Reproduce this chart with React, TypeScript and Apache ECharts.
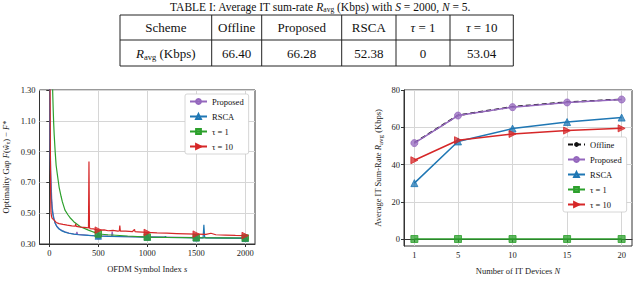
import React, { useEffect, useRef } from "react";
import * as echarts from "echarts";

const FONT = "Liberation Serif, Times New Roman, serif";

// ---- Table data ----
const tableHeaders = ["Scheme", "Offline", "Proposed", "RSCA", "{i|τ} = 1", "{i|τ} = 10"];
const tableValues = ["{i|R}{sub|avg} (Kbps)", "66.40", "66.28", "52.38", "0", "53.04"];

// ---- Left chart (optimality gap vs symbol index) ----
const leftXTicks = [0, 500, 1000, 1500, 2000];
const leftMarkerXs = [500, 1000, 1500, 2000];

const propX = [0, 4, 8, 12, 16, 20, 25, 30, 40, 50, 60, 75, 100, 130, 160, 200, 250, 275, 282, 290, 350, 400, 500, 600, 635, 642, 650, 800, 1000, 1200, 1500, 1800, 2000];
const propY = [1.6, 1.3, 1.03, 0.86, 0.75, 0.67, 0.59, 0.54, 0.49, 0.458, 0.437, 0.417, 0.399, 0.387, 0.379, 0.371, 0.365, 0.363, 0.378, 0.362, 0.359, 0.356, 0.353, 0.351, 0.35, 0.38, 0.35, 0.348, 0.346, 0.344, 0.341, 0.339, 0.338];

const rscaX = [0, 3, 6, 10, 14, 18, 24, 30, 40, 50, 60, 75, 100, 130, 160, 200, 250, 300, 400, 500, 600, 800, 1000, 1180, 1185, 1190, 1400, 1500, 1570, 1578, 1586, 1600, 1800, 2000];
const rscaY = [1.6, 1.3, 1.0, 0.82, 0.72, 0.64, 0.57, 0.52, 0.48, 0.455, 0.435, 0.415, 0.397, 0.385, 0.377, 0.37, 0.364, 0.36, 0.356, 0.352, 0.35, 0.347, 0.345, 0.343, 0.35, 0.343, 0.341, 0.34, 0.34, 0.425, 0.345, 0.339, 0.338, 0.337];

const tau1X = [25, 30, 35, 40, 45, 50, 60, 70, 83, 100, 120, 133, 160, 190, 217, 250, 317, 400, 483, 500, 600, 800, 1000, 1200, 1500, 1800, 2000];
const tau1Y = [1.6, 1.42, 1.28, 1.17, 1.08, 1.01, 0.9, 0.81, 0.748, 0.67, 0.61, 0.575, 0.52, 0.49, 0.467, 0.445, 0.412, 0.39, 0.37, 0.365, 0.36, 0.352, 0.345, 0.343, 0.341, 0.34, 0.339];

const tau10X = [5, 8, 11, 14, 17, 22, 30, 40, 50, 70, 100, 140, 183, 230, 265, 270, 275, 320, 383, 400, 405, 410, 415, 450, 500, 560, 600, 650, 700, 715, 720, 725, 780, 850, 870, 875, 900, 1000, 1100, 1200, 1300, 1400, 1500, 1600, 1650, 1700, 1800, 1900, 2000];
const tau10Y = [1.6, 1.3, 0.9, 0.62, 0.51, 0.48, 0.466, 0.46, 0.455, 0.44, 0.432, 0.427, 0.422, 0.418, 0.416, 0.43, 0.415, 0.41, 0.406, 0.404, 0.835, 0.41, 0.4, 0.398, 0.39, 0.392, 0.386, 0.388, 0.384, 0.385, 0.42, 0.384, 0.383, 0.381, 0.395, 0.38, 0.379, 0.375, 0.372, 0.37, 0.368, 0.366, 0.364, 0.362, 0.37, 0.36, 0.358, 0.356, 0.355];

// ---- Right chart (sum-rate vs number of devices) ----
const deviceN = [1, 5, 10, 15, 20];
const offlineRate = [51.7, 66.4, 71.0, 73.5, 75.0];
const proposedRate = [51.5, 66.28, 70.8, 73.3, 74.9];
const rscaRate = [30.0, 52.38, 59.3, 62.8, 65.2];
const tau1Rate = [0, 0, 0, 0, 0];
const tau10Rate = [42.3, 53.04, 56.4, 58.2, 59.4];
const rightXTicks = [1, 5, 10, 15, 20];
const rightYTicks = [0, 20, 40, 60, 80];

const C_PURPLE = "#9467bd";
const C_BLUE = "#1f77b4";
const C_GREEN = "#2ca02c";
const C_RED = "#d62728";

function fade(hex: string, a: number) {
  const r = parseInt(hex.slice(1, 3), 16);
  const g = parseInt(hex.slice(3, 5), 16);
  const b = parseInt(hex.slice(5, 7), 16);
  return `rgba(${r},${g},${b},${a})`;
}

function leftData(xs: number[], ys: number[]) {
  return xs.map((x, i) =>
    leftMarkerXs.includes(x) ? { value: [x, ys[i]] } : { value: [x, ys[i]], symbol: "none" }
  );
}

const rich = {
  i: { fontStyle: "italic", fontFamily: FONT },
  sub: { fontSize: 7, fontFamily: FONT, padding: [5, 0, 0, 0] },
};

export default function App() {
  const ref = useRef<HTMLDivElement>(null);
  useEffect(() => {
    if (!ref.current) return;
    const chart = echarts.init(ref.current, undefined, { renderer: "svg" });

    const colX = [120, 211.7, 261.7, 341.7, 396, 450, 513.3];
    const rowY = [15, 40, 66];
    const graphics: any[] = [];
    colX.forEach((x) =>
      graphics.push({ type: "line", shape: { x1: x, y1: rowY[0], x2: x, y2: rowY[2] }, style: { stroke: "#222", lineWidth: 1 } })
    );
    rowY.forEach((y) =>
      graphics.push({ type: "line", shape: { x1: colX[0], y1: y, x2: colX[6], y2: y }, style: { stroke: "#222", lineWidth: 1 } })
    );
    const cellRich = {
      i: { fontStyle: "italic", fontFamily: FONT, fontSize: 13 },
      sub: { fontSize: 8.5, fontFamily: FONT, padding: [7, 0, 0, 0] },
    };
    [tableHeaders, tableValues].forEach((row, r) => {
      row.forEach((t, c) => {
        graphics.push({
          type: "text",
          x: (colX[c] + colX[c + 1]) / 2,
          y: (rowY[r] + rowY[r + 1]) / 2,
          style: { text: t, fontFamily: FONT, fontSize: 13, fill: "#111", align: "center", verticalAlign: "middle", rich: cellRich },
        });
      });
    });
    graphics.push({
      type: "text",
      x: 320,
      y: 7,
      style: {
        text: "TABLE I: Average IT sum-rate {i|R}{sub|avg} (Kbps) with {i|S} = 2000, {i|N} = 5.",
        fontFamily: FONT,
        fontSize: 11.5,
        fill: "#111",
        align: "center",
        verticalAlign: "middle",
        rich: {
          i: { fontStyle: "italic", fontFamily: FONT, fontSize: 11.5 },
          sub: { fontSize: 7.5, fontFamily: FONT, padding: [5, 0, 0, 0] },
        },
      },
    });

    const axisCommon = {
      axisLine: { show: true, lineStyle: { color: "#333", width: 1 } },
      axisTick: { show: true, inside: false, length: 3, lineStyle: { color: "#333" } },
      axisLabel: { fontFamily: FONT, fontSize: 8.5, color: "#222", margin: 4, formatter: (v: number) => String(v) },
      splitLine: { show: true, lineStyle: { color: "#d6d6d6", width: 1 } },
      nameTextStyle: { fontFamily: FONT, fontSize: 8.5, color: "#222", rich },
    };

    const legendCommon = {
      orient: "vertical",
      itemWidth: 17,
      itemHeight: 6,
      itemGap: 6,
      padding: [3, 5, 3, 4],
      backgroundColor: "#fff",
      borderColor: "#ccc",
      borderWidth: 0.8,
      borderRadius: 2,
      textStyle: { fontFamily: FONT, fontSize: 8.5, color: "#111" },
    };

    const lineSeries = (
      name: string,
      color: string,
      symbol: string,
      data: any[],
      axisIdx: number,
      extra: any = {}
    ) => ({
      name,
      type: "line",
      xAxisIndex: axisIdx,
      yAxisIndex: axisIdx,
      data,
      symbol,
      symbolSize: axisIdx === 0 ? 6.5 : 7,
      showSymbol: true,
      color,
      lineStyle: { color, width: axisIdx === 0 ? 1.2 : 1.5 },
      itemStyle: { color: fade(color, 0.75), borderColor: color, borderWidth: 0.8 },
      clip: true,
      ...extra,
    });

    chart.setOption({
      animation: false,
      graphic: graphics,
      grid: [
        { left: 35, top: 90, width: 220, height: 154, show: true, borderColor: "#333", borderWidth: 1, backgroundColor: "transparent" },
        { left: 404, top: 90, width: 228, height: 156, show: true, borderColor: "#333", borderWidth: 1, backgroundColor: "transparent" },
      ],
      xAxis: [
        {
          ...axisCommon,
          type: "value",
          gridIndex: 0,
          min: -100,
          max: 2100,
          axisTick: { ...axisCommon.axisTick, customValues: leftXTicks },
          axisLabel: { ...axisCommon.axisLabel, customValues: leftXTicks },
          name: "OFDM Symbol Index {i|s}",
          nameLocation: "middle",
          nameGap: 20,
        },
        {
          ...axisCommon,
          type: "value",
          gridIndex: 1,
          min: 0.05,
          max: 20.95,
          axisTick: { ...axisCommon.axisTick, customValues: rightXTicks },
          axisLabel: { ...axisCommon.axisLabel, customValues: rightXTicks },
          name: "Number of IT Devices {i|N}",
          nameLocation: "middle",
          nameGap: 20,
        },
      ],
      yAxis: [
        {
          ...axisCommon,
          type: "value",
          gridIndex: 0,
          min: 0.3,
          max: 1.3,
          interval: 0.2,
          axisLabel: { ...axisCommon.axisLabel, formatter: (v: number) => v.toFixed(2) },
          name: "Optimality Gap {i|F}({i|ŵ}{sub|τ}) − {i|F}*",
          nameLocation: "middle",
          nameGap: 28,
        },
        {
          ...axisCommon,
          type: "value",
          gridIndex: 1,
          min: -3.75,
          max: 80,
          axisTick: { ...axisCommon.axisTick, customValues: rightYTicks },
          axisLabel: { ...axisCommon.axisLabel, customValues: rightYTicks },
          name: "Average IT Sum-Rate {i|R}{sub|avg} (Kbps)",
          nameLocation: "middle",
          nameGap: 20,
        },
      ],
      legend: [
        { ...legendCommon, left: 185, top: 94, data: ["Proposed", "RSCA", "τ = 1", "τ = 10"] },
        { ...legendCommon, left: 563, top: 137, data: ["Offline", "Proposed", "RSCA", "τ = 1", "τ = 10"] },
      ],
      series: [
        lineSeries("Proposed", C_PURPLE, "circle", leftData(propX, propY), 0),
        lineSeries("RSCA", C_BLUE, "triangle", leftData(rscaX, rscaY), 0),
        lineSeries("τ = 1", C_GREEN, "rect", leftData(tau1X, tau1Y), 0),
        lineSeries("τ = 10", C_RED, "triangle", leftData(tau10X, tau10Y), 0, { symbolRotate: -90 }),
        {
          name: "Offline",
          type: "line",
          xAxisIndex: 1,
          yAxisIndex: 1,
          data: deviceN.map((n, i) => [n, offlineRate[i]]),
          symbol: "none",
          color: "#111",
          lineStyle: { color: "#111", width: 1.6, type: [5, 3] },
        },
        lineSeries("Proposed", C_PURPLE, "circle", deviceN.map((n, i) => [n, proposedRate[i]]), 1),
        lineSeries("RSCA", C_BLUE, "triangle", deviceN.map((n, i) => [n, rscaRate[i]]), 1),
        lineSeries("τ = 1", C_GREEN, "rect", deviceN.map((n, i) => [n, tau1Rate[i]]), 1),
        lineSeries("τ = 10", C_RED, "triangle", deviceN.map((n, i) => [n, tau10Rate[i]]), 1, { symbolRotate: -90 }),
      ],
    });
    return () => chart.dispose();
  }, []);
  return <div ref={ref} style={{ position: "absolute", left: 0, top: 0, width: 640, height: 290, background: "#fff" }} />;
}
